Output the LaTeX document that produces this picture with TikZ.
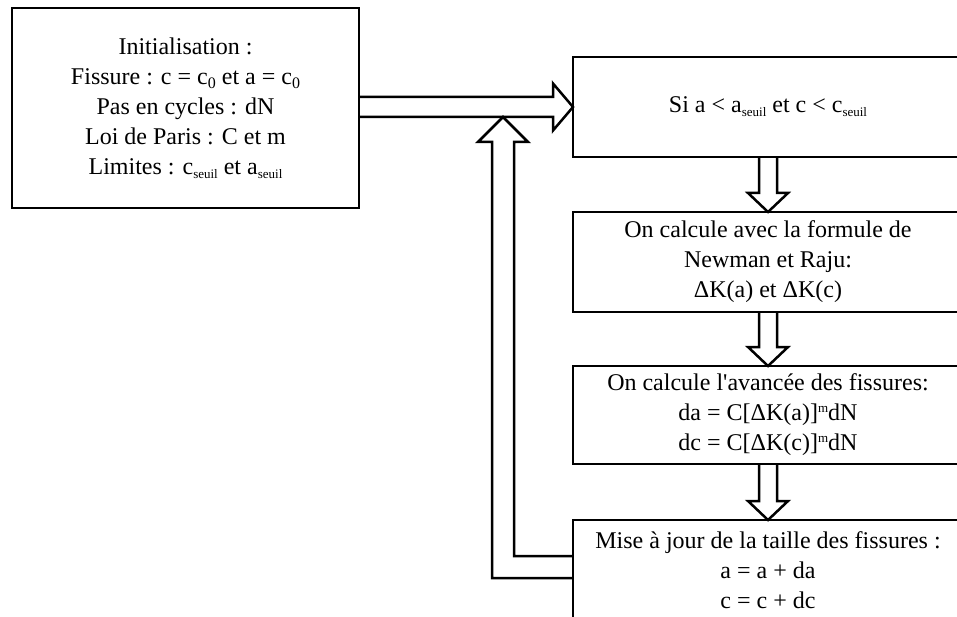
\documentclass[tikz,border=0pt]{standalone}
\usepackage{fontspec}
\setmainfont{Liberation Serif}
\usetikzlibrary{calc,positioning}
\newcommand{\indice}[2][13]{\raisebox{-0.35ex}{\fontsize{#1}{#1}\selectfont #2}}
\newcommand{\expo}[1]{\raisebox{0.75ex}{\fontsize{13}{13}\selectfont #1}}
\tikzset{
  bloc/.style={draw, rectangle, line width=2.9pt, outer sep=0pt, inner sep=0pt,
    align=center, minimum width=390pt, minimum height=100pt,
    font=\fontsize{24}{30}\selectfont},
  fleche/.style={draw, line width=2.5pt, line join=miter},
}
\begin{document}
\begin{tikzpicture}[x=1pt, y=-1pt]
\useasboundingbox (0,0) rectangle (957,617);
\clip (0,0) rectangle (957,617);
% initialisation
\node[bloc, minimum width=347pt, minimum height=200pt] (init) at (185.5,108)
  {Initialisation :\\
   Fissure : c = c\indice[16]{0} et a = c\indice[16]{0}\\
   Pas en cycles : dN\\
   Loi de Paris : C et m\\
   Limites : c\indice{seuil} et a\indice{seuil}};
% boucle de calcul
\node[bloc] (test) at (768,107) {Si a < a\indice{seuil} et c < c\indice{seuil}};
\node[bloc, below=55pt of test] (dk)
  {On calcule avec la formule de\\ Newman et Raju:\\ ΔK(a) et ΔK(c)};
\node[bloc, below=54pt of dk, minimum height=98pt] (avance)
  {On calcule l\textquotesingle avancée des fissures:\\
   da = C[ΔK(a)]\expo{m}dN\\ dc = C[ΔK(c)]\expo{m}dN};
\node[bloc, below=56pt of avance] (maj)
  {Mise à jour de la taille des fissures :\\ a = a + da\\ c = c + dc};
% fleches creuses vers le bas
\foreach \a/\b in {test/dk, dk/avance, avance/maj}
  \draw[fleche] ($(\a.south)+(-9,0)$) -- ($(\b.north)+(-9,-19)$) -- ++(-11,0)
    -- (\b.north) -- ++(20,-19) -- ++(-11,0) -- ($(\a.south)+(9,0)$);
% entree dans la boucle
\coordinate (depart) at (init.east |- test.west);
\draw[fleche] ($(depart)+(0,-10)$) -- ($(test.west)+(-20,-10)$) -- ++(0,-13.5)
  -- (test.west) -- ++(-20,23.5) -- ++(0,-13.5) -- ($(depart)+(0,10)$);
% retour
\coordinate (retour) at ($(test.west)+(-70,10)$);
\coordinate (back) at ($(maj.west)+(0,-3)$);
\draw[fleche] ($(back)+(0,-11)$) -- ($(retour |- back)+(11,-11)$)
  -- ($(retour)+(11,25)$) -- ++(14,0) -- (retour) -- ++(-25,25) -- ++(14,0)
  -- ($(retour |- back)+(-11,11)$) -- ($(back)+(0,11)$);
\end{tikzpicture}
\end{document}
